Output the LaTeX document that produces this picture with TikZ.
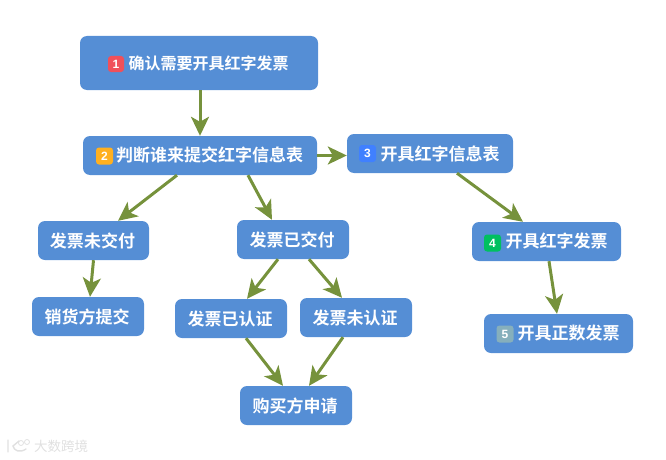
\documentclass[tikz,border=0pt]{standalone}
\usepackage{fontspec}
\setmainfont{Noto Sans CJK SC}[BoldFont={Noto Sans CJK SC Bold}]
\newfontfamily\numfont{Liberation Sans}
\usetikzlibrary{arrows.meta}
\definecolor{boxblue}{HTML}{558ED5}
\definecolor{linkgreen}{HTML}{76923C}
\definecolor{bred}{HTML}{F0505A}
\definecolor{borange}{HTML}{FFB020}
\definecolor{bblue}{HTML}{4080FF}
\definecolor{bgreen}{HTML}{00C060}
\definecolor{bgrey}{HTML}{86AFBC}
\definecolor{wm}{HTML}{E0E0E0}
\tikzset{
  box/.style={fill=boxblue,rounded corners=7pt,text=white,font=\fontsize{17pt}{20pt}\selectfont\bfseries,inner sep=0pt,minimum height=39pt},
  badge/.style={rounded corners=3pt,minimum width=17pt,minimum height=17pt,inner sep=0pt,text=white,font=\numfont\fontsize{12pt}{12pt}\selectfont\bfseries},
  link/.style={draw=linkgreen,line width=3pt,-{Stealth[length=19pt,width=18pt,inset=5pt]}},
  mark text/.style={text=wm,font=\fontsize{13.5pt}{14pt}\selectfont,inner sep=0pt}
}
\begin{document}
\begin{tikzpicture}[x=1pt,y=-1pt]
\useasboundingbox (0,0) rectangle (666,460);
\node[box,minimum width=238pt,minimum height=54pt,font=\fontsize{16pt}{20pt}\selectfont\bfseries] (n1) at (199,63) {\hspace{19pt}确认需要开具红字发票};
\node[box,minimum width=234pt] (n2) at (200,155.5) {\hspace{19pt}判断谁来提交红字信息表};
\node[box,minimum width=166pt] (n3) at (430,153.5) {\hspace{20pt}开具红字信息表};
\node[box,minimum width=149pt] (n4) at (546.5,241.5) {\hspace{20pt}开具红字发票};
\node[box,minimum width=149pt] (n5) at (558.5,333.5) {\hspace{20pt}开具正数发票};
\node[box,minimum width=111pt] (a) at (93.5,240.5) {\hspace{-2pt}发票未交付};
\node[box,minimum width=112pt] (b) at (293,239.5) {\hspace{-2pt}发票已交付};
\node[box,minimum width=112pt] (c) at (88,316.5) {\hspace{-2pt}销货方提交};
\node[box,minimum width=112pt] (d) at (231,318.5) {\hspace{-2pt}发票已认证};
\node[box,minimum width=112pt] (e) at (356,317.5) {\hspace{-2pt}发票未认证};
\node[box,minimum width=112pt] (f) at (296,405.5) {\hspace{-2pt}购买方申请};
\node[badge,fill=bred,minimum width=16pt,minimum height=16pt] (b1) at (116,64) {1};
\node[badge,fill=borange] (b2) at (104.5,156) {2};
\node[badge,fill=bblue] (b3) at (367.5,153.5) {3};
\node[badge,fill=bgreen] (b4) at (492.5,243) {4};
\node[badge,fill=bgrey] (b5) at (505,334) {5};
\draw[link] ([xshift=1pt]n1.south) -- (n2.north);
\draw[link] (n2.east) -- (n2.east -| n3.west);
\draw[link] ([xshift=-23pt]n2.south) -- ([xshift=24.5pt]a.north);
\draw[link] ([xshift=48pt]n2.south) -- ([xshift=-21pt]b.north);
\draw[link] ([xshift=27pt]n3.south) -- ([xshift=-23.5pt]n4.north);
\draw[link] ([xshift=2.5pt]n4.south) -- ([xshift=-1.5pt]n5.north);
\draw[link] (a.south) -- ([xshift=2pt]c.north);
\draw[link] ([xshift=-15pt]b.south) -- ([xshift=16pt]d.north);
\draw[link] ([xshift=16pt]b.south) -- ([xshift=-14pt]e.north);
\draw[link] ([xshift=15pt]d.south) -- ([xshift=-13pt]f.north);
\draw[link] ([xshift=-13pt]e.south) -- ([xshift=13pt]f.north);
\node[mark text,anchor=west] (wmtext) at (34,446.5) {大数跨境};
\draw[wm,line width=1.4pt,line cap=round] (8,440) -- (8,452) (19,441) -- (13,446) .. controls (14,451) and (20,453) .. (26,449);
\draw[wm,line width=.8pt] (21,443) circle (2.5pt) (27,442) circle (2.5pt);
\end{tikzpicture}
\end{document}
